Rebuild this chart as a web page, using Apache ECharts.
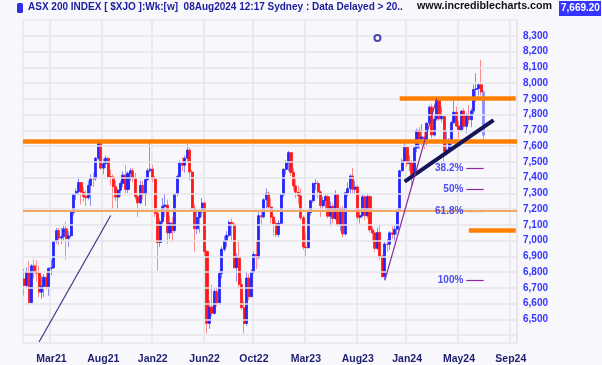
<!DOCTYPE html>
<html><head><meta charset="utf-8">
<script src="https://cdn.jsdelivr.net/npm/echarts@6/dist/echarts.min.js"></script>
<style>html,body{margin:0;padding:0;background:#f8f8fc}#c{width:602px;height:365px}</style>
</head><body><div id="c"></div>
<script>
// ---- data ----
const firstWeek = '2021-01-11';   // Monday of first weekly bar
const numWeeks = 200;             // bars + empty future weeks on the axis

const open = [
6757,6715,6800,6607,6840,6800,6793,6673,6710,6767,
6708,6824,6828,6995,7063,7016,7025,7075,7014,7030,
7179,7295,7312,7368,7308,7280,7272,7350,7394,7392,
7523,7628,7460,7488,7522,7406,7403,7342,7276,7320,
7363,7415,7324,7427,7443,7396,7279,7239,7350,7295,
7387,7444,7453,7393,7173,6988,7120,7217,7225,7049,
7111,7064,7296,7406,7493,7478,7523,7574,7435,7205,
7075,7146,7182,7238,6931,6475,6578,6539,6677,6605,
6791,6945,6999,7033,7115,7105,6828,6894,6722,6574,
6474,6762,6645,6799,6912,6892,7158,7151,7259,7301,
7213,7148,7108,7039,7110,7290,7452,7494,7558,7433,
7347,7307,7284,7145,6959,6955,7178,7253,7362,7363,
7309,7221,7255,7279,7155,7217,7141,7294,7099,7203,
7042,7303,7330,7410,7325,7340,7148,7159,7278,7158,
7279,7068,7048,6951,7051,6899,6772,6978,6977,7049,
7040,7072,7194,7443,7505,7591,7489,7499,7421,7588,
7699,7645,7658,7643,7745,7847,7670,7771,7896,7773,
7788,7567,7575,7629,7749,7814,7727,7702,7822,7725,
7796,7767,7823,7959,7965,7989,7943];
const close = [
6715,6800,6607,6840,6800,6793,6673,6710,6767,6708,
6824,6828,6995,7063,7016,7025,7075,7014,7030,7179,
7295,7312,7368,7308,7280,7272,7350,7394,7392,7523,
7628,7460,7488,7522,7406,7403,7342,7276,7320,7363,
7415,7324,7427,7443,7396,7279,7239,7350,7295,7387,
7444,7453,7393,7173,6988,7120,7217,7225,7049,7111,
7064,7296,7406,7493,7478,7523,7574,7435,7205,7075,
7146,7182,7238,6931,6475,6578,6539,6677,6605,6791,
6945,6999,7033,7115,7105,6828,6894,6722,6574,6474,
6762,6645,6799,6912,6892,7158,7151,7259,7301,7213,
7148,7108,7039,7110,7290,7452,7494,7558,7433,7347,
7307,7284,7145,6959,6955,7178,7253,7362,7363,7309,
7221,7255,7279,7155,7217,7141,7294,7099,7203,7042,
7303,7330,7410,7325,7340,7148,7159,7278,7158,7279,
7068,7048,6951,7051,6899,6772,6978,6977,7049,7040,
7072,7194,7443,7505,7591,7489,7499,7421,7588,7699,
7645,7658,7643,7745,7847,7670,7771,7896,7773,7788,
7567,7575,7629,7749,7814,7727,7702,7822,7725,7796,
7767,7823,7959,7965,7989,7943,7669];
const high = [
6820,6830,6870,6850,6880,6875,6840,6775,6790,6800,
6830,6880,7000,7080,7080,7080,7100,7120,7060,7190,
7300,7330,7400,7370,7340,7320,7380,7420,7430,7530,
7632,7632,7520,7540,7530,7450,7420,7380,7330,7380,
7440,7480,7440,7460,7460,7430,7290,7380,7380,7400,
7460,7632,7480,7410,7200,7140,7270,7300,7260,7160,
7150,7300,7420,7510,7530,7540,7630,7590,7450,7230,
7200,7200,7270,7250,6940,6620,6720,6700,6700,6810,
6960,7030,7060,7130,7140,7120,6920,7000,6760,6620,
6800,6790,6820,6930,7000,7180,7190,7270,7330,7310,
7270,7160,7130,7130,7300,7460,7510,7570,7560,7460,
7400,7350,7330,7160,7050,7190,7260,7370,7390,7380,
7320,7280,7300,7300,7250,7240,7320,7300,7210,7220,
7310,7370,7420,7460,7380,7350,7200,7300,7290,7300,
7290,7090,7060,7080,7100,6910,6990,7010,7060,7090,
7100,7200,7450,7520,7630,7600,7540,7510,7600,7710,
7720,7740,7690,7750,7860,7870,7800,7910,7900,7850,
7800,7690,7650,7760,7900,7850,7760,7830,7840,7810,
7860,7840,7990,8062,8000,8148,7955];
const low = [
6650,6700,6590,6600,6760,6740,6640,6630,6640,6690,
6650,6780,6820,6980,6970,6980,7000,6880,6960,7020,
7160,7260,7290,7230,7250,7220,7260,7220,7340,7380,
7510,7450,7420,7460,7390,7350,7200,7250,7200,7280,
7340,7300,7300,7380,7370,7260,7150,7230,7260,7220,
7380,7430,7370,7150,6810,6960,7100,7150,6980,7010,
6990,7050,7280,7400,7440,7430,7500,7380,7190,6930,
7040,7050,7150,6900,6410,6440,6520,6530,6580,6590,
6760,6930,6960,7020,6990,6820,6740,6700,6560,6410,
6460,6620,6640,6790,6820,6880,7090,7140,7200,7200,
7110,7030,7020,7020,7100,7280,7420,7440,7410,7320,
7270,7230,7130,6940,6900,6950,7160,7240,7320,7270,
7150,7180,7200,7140,7090,7110,7130,7090,7060,7020,
7030,7280,7300,7300,7300,7130,7110,7150,7130,7140,
7050,6990,6930,6940,6880,6765,6750,6930,6940,7010,
6990,7040,7190,7440,7500,7470,7440,7340,7410,7560,
7580,7600,7580,7600,7740,7650,7660,7760,7760,7750,
7500,7540,7560,7600,7740,7720,7650,7690,7710,7680,
7740,7720,7800,7880,7920,7920,7640];

const tickDates  = ['2021-03-29','2021-08-23','2022-01-10','2022-06-06','2022-10-24','2023-03-20','2023-08-14','2024-01-01','2024-05-27','2024-10-21'];
const tickLabels = ['Mar21','Aug21','Jan22','Jun22','Oct22','Mar23','Aug23','Jan24','May24','Sep24'];
const yGridValues  = [6400,6500,6600,6700,6800,6900,7000,7100,7200,7300,7400,7500,7600,7700,7800,7900,8000,8100,8200,8300];

const fullLevelsThick = [7632];
const fullLevelsThin  = [7190];
const partialLevels = [ {from:'2023-12-11', to:'2024-11-04', value:7902}, {from:'2024-06-24', to:'2024-11-04', value:7063} ];
const fibLabels = ['38.2%','50%','61.8%','100%'];
const fibValues = [7461, 7325, 7189, 6748];
const fibFrom = '2024-06-17', fibTo = '2024-08-05';
const trendThick = [['2023-12-25',7374],['2024-09-02',7765]];
const trendLeft  = [['2021-02-22',6356],['2021-09-13',7159]];
const trendFib   = [['2023-10-30',6748],['2024-03-25',7902]];
const markerPoint = ['2023-10-09', 8285];
const lastPrice = '7,669.20';

// ---- build ----
const cats = [];
const d0 = Date.parse(firstWeek + 'T00:00:00Z');
for (let i = 0; i < numWeeks; i++) cats.push(new Date(d0 + i * 7 * 86400000).toISOString().slice(0, 10));
const tickSet = new Set(tickDates.map(d => cats.indexOf(d)));
const tickText = {}; tickDates.forEach((d, k) => tickText[d] = tickLabels[k]);

const UP = '#2424ff', DN = '#ff1a1a', UPP = '#8c8cf6', DNP = '#ff8c8c';
const wickData = open.map((o, i) => [o, close[i], low[i], high[i]]);
const bodyData = open.map((o, i) => {
  const v = [o, close[i], Math.min(o, close[i]), Math.max(o, close[i])];
  if (i === open.length - 1) return {value: v, itemStyle: {color: UPP, color0: DNP, borderColor: UPP, borderColor0: DNP}};
  return v;
});

const chart = echarts.init(document.getElementById('c'), null, {renderer: 'canvas'});
const FONT = 'Liberation Sans, Arial, sans-serif';
const noSym = ['none', 'none'];

chart.setOption({
  animation: false,
  backgroundColor: '#f8f8fc',
  grid: {left: 23, right: 85, top: 20, bottom: 22, show: true, borderColor: '#dedee6', borderWidth: 1, backgroundColor: 'transparent'},
  xAxis: {
    type: 'category', data: cats, boundaryGap: true,
    axisLine: {show: false}, axisTick: {show: false},
    axisLabel: {interval: (i) => tickSet.has(i), formatter: (v) => tickText[v] || '', color: '#1e1e70', fontWeight: 'bold', fontSize: 10.5, fontFamily: FONT, margin: 11},
    splitLine: {show: true, interval: (i) => tickSet.has(i), lineStyle: {color: '#e4e4ea', width: 1.5}}
  },
  yAxis: {
    type: 'value', position: 'right', min: 6350, max: 8400, interval: 50, scale: true,
    axisLine: {show: false}, axisTick: {show: false}, splitLine: {show: false},
    axisLabel: {formatter: (v) => (v % 100 === 0 && v >= 6500 && v <= 8300) ? v.toLocaleString('en-US') : '', color: '#3535ff', fontWeight: 'bold', fontSize: 10, fontFamily: FONT, margin: 6}
  },
  series: [
    {type: 'line', data: [], z: 1, silent: true,
     markLine: {silent: true, symbol: noSym, label: {show: false}, lineStyle: {color: '#e4e4ea', width: 1.5, type: 'solid'},
       data: yGridValues.map(v => ({yAxis: v}))}},
    {type: 'line', data: [], z: 2, silent: true,
     markLine: {silent: true, symbol: noSym, lineStyle: {color: '#8a2a9a', width: 1.2, type: 'solid'},
       label: {show: true, position: 'start', distance: 3, color: '#4c4cf0', fontWeight: 'bold', fontSize: 10, fontFamily: FONT, formatter: (p) => p.name},
       data: fibValues.map((v, k) => [{name: fibLabels[k], coord: [fibFrom, v]}, {coord: [fibTo, v]}])}},
    {type: 'candlestick', data: wickData, barWidth: 1, z: 3, silent: true,
     itemStyle: {color: UPP, color0: DNP, borderColor: UPP, borderColor0: DNP, borderWidth: 1}},
    {type: 'candlestick', data: bodyData, barWidth: 2.6, z: 4, silent: true,
     itemStyle: {color: UP, color0: DN, borderColor: UP, borderColor0: DN, borderWidth: 0.8}},
    {type: 'line', data: [], z: 5, silent: true,
     markLine: {silent: true, symbol: noSym, label: {show: false},
       data: [
         ...fullLevelsThick.map(v => ({yAxis: v, lineStyle: {color: '#ff8000', width: 4.5, type: 'solid'}})),
         ...fullLevelsThin.map(v => ({yAxis: v, lineStyle: {color: '#f2a862', width: 2, type: 'solid'}})),
         ...partialLevels.map(p => [{coord: [p.from, p.value], lineStyle: {color: '#ff8000', width: 4.5, type: 'solid'}}, {coord: [p.to, p.value]}]),
         [{coord: trendThick[0], lineStyle: {color: '#151558', width: 4, type: 'solid'}}, {coord: trendThick[1]}],
         [{coord: trendLeft[0], lineStyle: {color: '#3a3a8a', width: 1.2, type: 'solid'}}, {coord: trendLeft[1]}],
         [{coord: trendFib[0], lineStyle: {color: '#8a2a9a', width: 1.2, type: 'solid'}}, {coord: trendFib[1]}]
       ]}},
    {type: 'scatter', data: [markerPoint], z: 6, silent: true, symbol: 'emptyCircle', symbolSize: 6,
     itemStyle: {color: '#1a1aa0', borderWidth: 1.3}}
  ],
  graphic: [
    {type: 'rect', left: 17, top: 3, shape: {width: 6, height: 10, r: 1.5}, style: {fill: '#2e2ee8'}},
    {type: 'text', left: 28, top: 2, style: {text: 'ASX 200 INDEX [ $XJO ]:Wk:[w]  08Aug2024 12:17 Sydney : Data Delayed > 20..', font: 'bold 10px ' + FONT, fill: '#1c1c9c'}},
    {type: 'text', left: 417, top: 1, style: {text: 'www.incrediblecharts.com', font: 'bold 10.7px ' + FONT, fill: '#111111'}},
    {type: 'rect', left: 559, top: 1, shape: {width: 42, height: 15}, style: {fill: '#3535ff'}},
    {type: 'text', left: 561, top: 3, style: {text: lastPrice, font: 'bold 10px ' + FONT, fill: '#ffffff'}}
  ]
});
</script></body></html>
